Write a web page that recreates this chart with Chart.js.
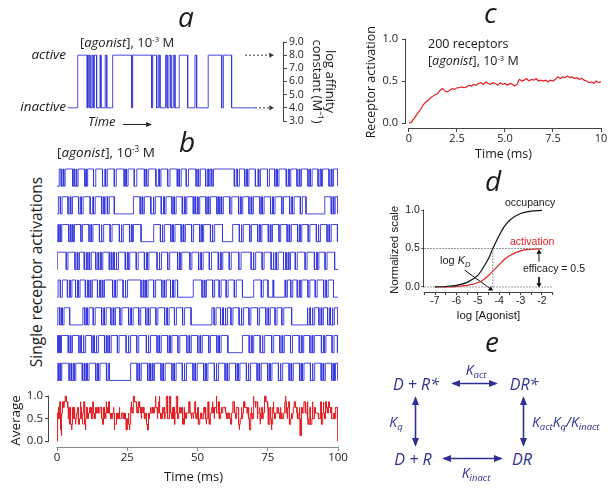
<!DOCTYPE html>
<html>
<head>
<meta charset="utf-8">
<script src="https://cdn.jsdelivr.net/npm/chart.js@4.4.1/dist/chart.umd.min.js"></script>
<style>
  html, body { margin: 0; padding: 0; background: #fff; }
  body { width: 616px; height: 493px; position: relative; overflow: hidden; font-family: 'Open Sans', sans-serif; color: #1a1a1a; }
  canvas, .t, svg { position: absolute; }
  .t { white-space: nowrap; line-height: 1; }
  .panel { font-style: italic; font-size: 28px; }
  .arial { font-family: 'Liberation Sans', Arial, sans-serif; }
  .c { transform: translate(-50%, -50%); }
  sup { font-size: 0.6em; vertical-align: 0.6em; line-height: 0; }
  sub { font-size: 0.68em; vertical-align: -0.35em; line-height: 0; }
  .scheme { color: #2e3192; font-style: italic; }
</style>
</head>
<body>

<!-- panel a -->
<canvas id="chartA" width="290" height="100" style="left:60px;top:30px"></canvas>
<div class="t panel" style="left:178px;top:2px">a</div>
<div class="t" style="left:80px;top:36px;font-size:13px">[<i>agonist</i>], 10<sup>-3</sup> M</div>
<div class="t" style="left:0;width:66px;text-align:right;top:48px;font-size:13.5px;font-style:italic">active</div>
<div class="t" style="left:0;width:66px;text-align:right;top:100px;font-size:13.5px;font-style:italic">inactive</div>
<div class="t" style="left:88px;top:115px;font-size:13px;font-style:italic">Time</div>

<!-- panel b -->
<canvas id="chartTraces" width="285" height="226" style="left:55px;top:162px"></canvas>
<canvas id="chartAvg" width="355" height="108" style="left:0;top:385px"></canvas>
<div class="t panel" style="left:179px;top:127px">b</div>
<div class="t" style="left:57px;top:146px;font-size:13.5px">[<i>agonist</i>], 10<sup>-3</sup> M</div>
<div class="t c" style="left:37px;top:272px;font-size:15.5px;transform:translate(-50%,-50%) rotate(-90deg)">Single receptor activations</div>

<!-- panel c -->
<canvas id="chartC" width="276" height="145" style="left:340px;top:25px"></canvas>
<div class="t panel" style="left:484px;top:-2px">c</div>
<div class="t" style="left:428px;top:38px;font-size:12.5px">200 receptors</div>
<div class="t" style="left:428px;top:55px;font-size:12.5px">[<i>agonist</i>], 10<sup>-3</sup> M</div>

<!-- panel d -->
<canvas id="chartD" width="246" height="130" style="left:370px;top:195px"></canvas>
<div class="t panel" style="left:485px;top:166px">d</div>
<div class="t arial" style="left:505px;top:197px;font-size:10.5px">occupancy</div>
<div class="t arial" style="left:510px;top:236px;font-size:10.5px;color:#e31e24">activation</div>
<div class="t arial" style="left:440px;top:255px;font-size:11px">log <i>K<sub>D</sub></i></div>
<div class="t arial" style="left:523px;top:263px;font-size:10.5px">efficacy = 0.5</div>

<!-- panel e -->
<div class="t panel" style="left:485px;top:327px">e</div>
<div class="t scheme c" style="left:416px;top:384px;font-size:16px">D + R*</div>
<div class="t scheme c" style="left:524px;top:384px;font-size:16px">DR*</div>
<div class="t scheme c" style="left:413px;top:459px;font-size:16px">D + R</div>
<div class="t scheme c" style="left:522px;top:459px;font-size:16px">DR</div>
<div class="t scheme c" style="left:476px;top:370px;font-size:14px">K<sub>act</sub></div>
<div class="t scheme c" style="left:396px;top:422px;font-size:14px">K<sub>q</sub></div>
<div class="t scheme" style="left:532px;top:415px;font-size:14px">K<sub>act</sub>K<sub>q</sub>/K<sub>inact</sub></div>
<div class="t scheme c" style="left:476px;top:473px;font-size:14px">K<sub>inact</sub></div>

<svg width="616" height="493" style="left:0;top:0">
  <defs>
    <marker id="headBlue" viewBox="0 0 10 10" refX="8" refY="5" markerUnits="userSpaceOnUse" markerWidth="9" markerHeight="9" orient="auto-start-reverse">
      <path d="M0,1 L10,5 L0,9 Z" fill="#2e3192"/>
    </marker>
    <marker id="headBlack" viewBox="0 0 10 10" refX="8" refY="5" markerUnits="userSpaceOnUse" markerWidth="6" markerHeight="6" orient="auto">
      <path d="M0,1 L10,5 L0,9 Z" fill="#222"/>
    </marker>
  </defs>
  <line x1="123" y1="124.5" x2="151" y2="124.5" stroke="#222" stroke-width="1" marker-end="url(#headBlack)"/>
  <g stroke="#2e3192" stroke-width="1.6">
    <line x1="453" y1="383.5" x2="496" y2="383.5" marker-start="url(#headBlue)" marker-end="url(#headBlue)"/>
    <line x1="444" y1="458.5" x2="501" y2="458.5" marker-start="url(#headBlue)" marker-end="url(#headBlue)"/>
    <line x1="415.5" y1="398" x2="415.5" y2="445" marker-start="url(#headBlue)" marker-end="url(#headBlue)"/>
    <line x1="523.5" y1="398" x2="523.5" y2="445" marker-start="url(#headBlue)" marker-end="url(#headBlue)"/>
  </g>
</svg>

<script>
// ---- data ----

// panel a: one receptor switching, open (active) intervals in arbitrary time units
const affinityOpenings = [[5.2, 10.3], [10.9, 11.8], [12.8, 13.5], [14.1, 15.3], [17.1, 17.6], [19.9, 20.7],
  [23.9, 34.1], [34.6, 44.8], [45.3, 47.4], [48.3, 49.2], [52.2, 53.0], [54.0, 55.1], [56.3, 57.2],
  [59.5, 64.0], [67.9, 68.8], [75.0, 82.2], [83.1, 87.5]];
const inactiveLevel = 4.0;
const activeLevel = 8.0;
const affinityTicks = [3, 4, 5, 6, 7, 8, 9];

// panel b: active intervals (ms) of 8 single receptors
const receptor1 = [[0.8, 1.5], [2.1, 2.4], [2.9, 5.6], [6.0, 6.3], [6.8, 7.1], [7.5, 9.9], [10.3, 10.5], [10.9, 13.0],
  [13.8, 16.2], [17.0, 17.3], [17.9, 20.4], [21.1, 23.9], [24.4, 24.7], [25.3, 27.5], [28.4, 31.1], [31.6, 31.9],
  [32.5, 35.2], [36.1, 36.5], [37.0, 39.4], [40.2, 42.8], [43.3, 43.6], [44.2, 46.0], [46.8, 49.5], [50.1, 50.4],
  [51.0, 52.9], [53.6, 54.0], [54.5, 55.1], [55.7, 63.1], [63.8, 64.2], [64.9, 66.8], [67.4, 67.7], [68.3, 70.6],
  [71.5, 71.8], [72.4, 74.9], [75.6, 77.5], [78.1, 78.4], [79.0, 81.6], [82.3, 82.6], [83.2, 85.4], [86.1, 86.4],
  [87.0, 89.3], [89.9, 90.2], [90.8, 92.9], [93.6, 94.0], [94.5, 96.8], [97.5, 97.8], [98.4, 100]];
const receptor2 = [[0.5, 1.2], [1.8, 3.9], [4.6, 4.9], [5.5, 7.7], [8.4, 8.7], [9.3, 11.8], [12.7, 13.0], [13.6, 15.9],
  [16.5, 16.8], [17.4, 18.0], [18.6, 20.4], [27.2, 29.6], [30.2, 30.5], [31.1, 33.4], [34.2, 34.5], [35.0, 37.1],
  [37.9, 38.2], [38.8, 40.9], [41.5, 41.8], [42.4, 44.6], [45.3, 45.6], [46.2, 48.5], [49.0, 49.3], [49.9, 50.2],
  [50.8, 53.0], [53.6, 54.0], [54.6, 56.9], [57.4, 57.7], [58.3, 58.6], [59.2, 61.5], [62.2, 64.6], [65.2, 65.5],
  [66.1, 68.3], [69.0, 69.3], [69.9, 72.2], [72.8, 73.1], [73.7, 76.0], [76.7, 77.0], [77.6, 80.0], [80.6, 82.8],
  [83.5, 83.8], [84.4, 86.6], [87.3, 88.6], [95.3, 97.6], [98.2, 98.5], [99.0, 100]];
const receptor3 = [[0.3, 0.6], [1.0, 1.3], [1.7, 4.1], [4.6, 4.9], [5.4, 5.7], [6.2, 8.5], [9.1, 11.4], [12.0, 12.3],
  [12.8, 15.1], [15.7, 16.0], [16.6, 18.9], [19.6, 22.2], [22.8, 23.1], [23.6, 25.8], [26.4, 26.7], [27.2, 29.9],
  [34.4, 36.8], [37.4, 37.7], [38.3, 40.5], [41.1, 41.4], [42.0, 44.2], [44.8, 45.1], [45.7, 47.9], [48.6, 50.8],
  [51.4, 51.7], [52.2, 54.6], [55.2, 55.5], [56.1, 58.9], [62.5, 64.9], [65.5, 65.8], [66.3, 68.6], [69.2, 71.4],
  [72.0, 72.3], [72.9, 75.2], [75.8, 76.1], [76.7, 79.0], [79.6, 81.9], [82.5, 82.8], [83.4, 85.6], [86.2, 86.5],
  [87.1, 89.4], [90.0, 92.3], [92.9, 93.2], [93.8, 96.1], [96.7, 97.0], [97.6, 99.8]];
const receptor4 = [[0.1, 3.3], [3.9, 6.4], [7.1, 7.4], [8.0, 9.7], [10.4, 10.7], [11.3, 11.6], [12.2, 13.8], [14.5, 14.8],
  [15.4, 15.7], [16.3, 18.6], [19.2, 19.5], [20.1, 20.4], [21.0, 21.3], [21.9, 24.3], [25.0, 25.3], [25.9, 28.2],
  [28.9, 31.1], [31.8, 32.1], [32.7, 35.6], [36.3, 36.6], [37.2, 39.4], [40.1, 42.9], [43.5, 43.8], [44.4, 47.3],
  [48.0, 50.4], [51.1, 51.4], [52.0, 54.2], [55.0, 57.4], [58.1, 58.4], [59.0, 61.3], [62.0, 64.7], [65.5, 69.1],
  [69.8, 70.1], [70.7, 73.0], [73.7, 76.2], [76.9, 77.2], [77.8, 78.1], [78.7, 80.6], [81.3, 81.6], [82.2, 82.5],
  [83.1, 84.8], [85.5, 88.3], [89.0, 91.6], [92.3, 92.6], [93.2, 95.4], [96.1, 98.8]];
const receptor5 = [[0.4, 1.2], [1.9, 3.7], [4.4, 4.7], [5.3, 6.6], [7.3, 7.6], [8.2, 10.1], [10.8, 11.1], [11.7, 12.0],
  [12.6, 14.4], [15.1, 15.4], [16.0, 16.3], [16.9, 19.8], [20.5, 20.8], [21.4, 23.5], [24.2, 24.5], [25.1, 29.9],
  [30.6, 30.9], [31.5, 31.8], [32.4, 34.4], [35.1, 37.3], [38.0, 38.3], [38.9, 40.4], [41.1, 41.4], [42.0, 42.9],
  [48.5, 51.6], [52.3, 52.6], [53.2, 55.4], [56.1, 57.7], [58.4, 60.2], [60.9, 63.1], [63.8, 66.0], [70.0, 72.7],
  [73.4, 75.1], [76.8, 77.1], [81.1, 81.4], [82.0, 83.2], [83.9, 85.5], [86.2, 86.5], [87.1, 89.3], [90.0, 91.9],
  [92.6, 94.9], [95.6, 95.9], [96.5, 98.4]];
const receptor6 = [[0.3, 1.0], [1.6, 1.9], [2.5, 4.5], [9.2, 9.9], [10.5, 10.8], [11.4, 12.9], [13.6, 15.9], [16.6, 16.9],
  [17.5, 19.2], [19.9, 20.2], [20.8, 22.4], [23.1, 25.5], [26.2, 26.5], [27.1, 29.1], [29.8, 31.6], [32.3, 32.6],
  [33.2, 35.2], [35.9, 38.3], [39.0, 39.3], [39.9, 41.8], [42.5, 44.7], [45.4, 47.7], [55.1, 55.9], [56.6, 58.2],
  [58.9, 59.2], [59.8, 60.1], [60.7, 61.9], [62.6, 64.8], [65.5, 65.8], [66.4, 68.3], [69.0, 71.4], [72.1, 74.3],
  [75.0, 75.3], [75.9, 77.6], [78.3, 80.0], [80.7, 83.5], [89.0, 89.3], [89.9, 90.2], [90.8, 91.1], [91.7, 93.2],
  [93.9, 94.2], [94.8, 96.3], [97.0, 97.3], [97.9, 98.2], [98.7, 100]];
const receptor7 = [[0.2, 0.5], [0.9, 1.2], [1.6, 4.0], [4.6, 4.9], [5.5, 7.8], [8.4, 8.7], [9.3, 9.6], [10.2, 12.4],
  [13.0, 13.3], [13.9, 14.2], [14.8, 16.9], [17.5, 17.8], [18.4, 18.7], [19.3, 21.5], [22.1, 24.6], [25.3, 25.6],
  [26.2, 28.4], [29.1, 31.8], [32.4, 32.7], [33.3, 35.6], [36.2, 36.5], [37.1, 39.4], [40.0, 40.3], [40.9, 43.0],
  [43.7, 46.2], [46.9, 47.2], [47.8, 50.1], [50.8, 51.1], [51.7, 54.0], [54.6, 56.9], [57.5, 57.8], [58.4, 60.8],
  [66.0, 68.4], [69.1, 69.4], [70.0, 72.3], [73.0, 73.3], [73.9, 76.4], [77.1, 79.3], [80.0, 80.3], [80.9, 83.1],
  [83.8, 86.2], [86.9, 87.2], [87.8, 90.0], [90.7, 91.0], [91.6, 94.1], [94.8, 95.1], [95.7, 97.9], [98.6, 99.8]];
const receptor8 = [[0.3, 0.6], [1.0, 1.3], [1.7, 4.3], [4.9, 5.2], [5.8, 6.1], [6.7, 9.0], [9.6, 9.9], [10.5, 10.8],
  [11.4, 13.8], [14.4, 14.7], [15.3, 17.6], [18.2, 18.6], [26.2, 28.5], [29.1, 29.4], [30.0, 32.3], [32.9, 33.2],
  [33.8, 34.1], [34.7, 37.0], [37.6, 37.9], [38.5, 40.9], [41.5, 41.8], [42.4, 44.6], [45.2, 45.5], [46.1, 48.4],
  [49.0, 49.3], [49.9, 52.2], [52.8, 53.1], [53.7, 56.0], [56.6, 56.9], [57.5, 59.8], [60.4, 60.7], [61.3, 63.6],
  [64.2, 64.5], [65.1, 67.4], [68.0, 68.3], [68.9, 71.2], [71.8, 72.1], [72.7, 75.0], [75.6, 75.9], [76.5, 78.8],
  [79.4, 79.7], [80.3, 82.6], [83.2, 83.5], [84.1, 86.4], [87.0, 87.3], [87.9, 90.2], [90.8, 91.1], [91.7, 94.0],
  [94.6, 94.9], [95.5, 97.8], [98.4, 98.7], [99.1, 100]];
const singleTraces = [receptor1, receptor2, receptor3, receptor4, receptor5, receptor6, receptor7, receptor8];
const traceTicks = [0, 25, 50, 75, 100];
const fractionTicks = [0, 0.5, 1];

// panel c: 200 receptors, fraction active, sampled every 0.125 ms
const cTimeStep = 0.125;
const cActivation = [
  0.00, 0.01, 0.05, 0.09, 0.13, 0.17, 0.22, 0.25, 0.27, 0.30, 0.32, 0.34, 0.35, 0.39, 0.41, 0.38, 0.37,
  0.39, 0.41, 0.40, 0.42, 0.42, 0.43, 0.42, 0.43,
  0.45, 0.44, 0.46, 0.45, 0.47, 0.48, 0.46, 0.49,
  0.47, 0.46, 0.48, 0.47, 0.45, 0.48, 0.46, 0.47,
  0.45, 0.47, 0.46, 0.44, 0.46, 0.52, 0.50, 0.51,
  0.53, 0.50, 0.52, 0.51, 0.53, 0.50, 0.51, 0.50,
  0.51, 0.49, 0.51, 0.50, 0.52, 0.55, 0.53, 0.55,
  0.54, 0.56, 0.54, 0.55, 0.53, 0.54, 0.52, 0.53,
  0.51, 0.50, 0.48, 0.49, 0.47, 0.50, 0.48, 0.49];
const cTicksX = [0, 2.5, 5, 7.5, 10];

// panel d: concentration-response
const logAgonist = [-7, -6.5, -6, -5.5, -5, -4.75, -4.5, -4.25, -4, -3.75, -3.5, -3, -2.5, -2];
const occupancy = [0.002, 0.006, 0.02, 0.06, 0.15, 0.25, 0.37, 0.53, 0.67, 0.79, 0.87, 0.955, 0.985, 0.995];
const activation = [0.001, 0.002, 0.006, 0.02, 0.055, 0.09, 0.15, 0.22, 0.29, 0.36, 0.41, 0.47, 0.49, 0.497];
const logKD = -4.3;
const efficacy = 0.5;
const doseTicks = [-7.5, -7, -6.5, -6, -5.5, -5, -4.5, -4, -3.5, -3, -2.5, -2, -1.5];

// ---- helpers ----
const blue = 'rgba(52, 52, 222, 0.9)';
const red = '#e31e24';
const axisGrey = '#444';

function stepPoints(openings, low, high, tEnd) {
  const pts = [{ x: 0, y: low }];
  openings.forEach(([on, off]) => {
    pts.push({ x: on, y: low }, { x: on, y: high }, { x: off, y: high }, { x: off, y: low });
  });
  pts.push({ x: tEnd, y: low });
  return pts;
}

// fraction of the single receptors active at time t
function fractionActive(t) {
  return singleTraces.filter(tr => tr.some(([on, off]) => t >= on && t < off)).length / singleTraces.length;
}

const switchTimes = [...new Set(singleTraces.flat(2))].sort((a, b) => a - b);
const averagePoints = [{ x: 0, y: fractionActive(0) }];
switchTimes.forEach(t => {
  averagePoints.push({ x: t, y: averagePoints[averagePoints.length - 1].y }, { x: t, y: fractionActive(t) });
});

// Prism style axis line: only from first to last tick
const axisLines = {
  id: 'axisLines',
  afterDraw(chart) {
    const ctx = chart.ctx;
    Object.values(chart.scales).forEach(s => {
      if (!s.options.display || s.ticks.length < 2) return;
      const a = s.getPixelForValue(s.ticks[0].value);
      const b = s.getPixelForValue(s.ticks[s.ticks.length - 1].value);
      ctx.save();
      ctx.strokeStyle = s.options.grid.color;
      ctx.lineWidth = 1;
      ctx.beginPath();
      if (s.isHorizontal()) {
        const y = Math.round(s.top) + 0.5;
        ctx.moveTo(a - 0.5, y);
        ctx.lineTo(b + 0.5, y);
      } else {
        const x = s.position === 'right' ? Math.round(s.left) + 0.5 : Math.round(s.right) - 0.5;
        ctx.moveTo(x, a + 0.5);
        ctx.lineTo(x, b - 0.5);
      }
      ctx.stroke();
      ctx.restore();
    });
  }
};

const setTicks = list => scale => { scale.ticks = list.map(v => ({ value: v })); };

Chart.defaults.font.family = "'Open Sans', sans-serif";
Chart.defaults.color = '#222';
Chart.defaults.plugins.legend.display = false;
Chart.defaults.plugins.tooltip.enabled = false;

const base = { responsive: false, animation: false, events: [] };

// ---- panel a ----
new Chart(document.getElementById('chartA'), {
  type: 'scatter',
  data: {
    datasets: [
      { data: stepPoints(affinityOpenings, inactiveLevel, activeLevel, 100), showLine: true, borderColor: blue, borderWidth: 1, pointRadius: 0 },
      { data: [{ x: 94.7, y: activeLevel }, { x: 108.5, y: activeLevel }], showLine: true, borderColor: '#333', borderWidth: 1,
        borderDash: [2, 2], pointStyle: 'triangle', pointRadius: [0, 3], pointRotation: 90, pointBackgroundColor: '#333', pointBorderWidth: 0 },
      { data: [{ x: 100, y: inactiveLevel }, { x: 108.5, y: inactiveLevel }], showLine: true, borderColor: '#333', borderWidth: 1,
        borderDash: [2, 2], pointStyle: 'triangle', pointRadius: [0, 3], pointRotation: 90, pointBackgroundColor: '#333', pointBorderWidth: 0 }
    ]
  },
  options: {
    ...base,
    layout: { autoPadding: false, padding: { left: 8, right: 0, top: 12, bottom: 9 } },
    scales: {
      x: { type: 'linear', display: false, min: 0, max: 115 },
      y: {
        position: 'right', min: 3, max: 9,
        afterFit: s => { s.width = 67; },
        afterBuildTicks: setTicks(affinityTicks),
        ticks: { callback: v => v.toFixed(1), font: { size: 10.5 }, padding: 2, autoSkip: false },
        grid: { drawOnChartArea: false, tickLength: 4, color: axisGrey },
        border: { display: false },
        title: { display: true, text: ['log affinity', 'constant (M\u207B\u00B9)'], color: '#1a1a1a',
          font: { size: 13, lineHeight: 1 }, padding: { top: 13.5, bottom: 0 } }
      }
    }
  },
  plugins: [axisLines]
});

// ---- panel b: single receptor traces ----
new Chart(document.getElementById('chartTraces'), {
  type: 'scatter',
  data: {
    datasets: singleTraces.map((tr, k) => ({
      data: stepPoints(tr, singleTraces.length - 1 - k, singleTraces.length - 1 - k + 0.62, 100),
      showLine: true, borderColor: blue, borderWidth: 1, pointRadius: 0
    }))
  },
  options: {
    ...base,
    layout: { autoPadding: false, padding: 2 },
    scales: {
      x: { type: 'linear', display: false, min: 0, max: 100 },
      y: { display: false, min: -0.2, max: 7.8 }
    }
  }
});

// ---- panel b: average ----
new Chart(document.getElementById('chartAvg'), {
  type: 'scatter',
  data: {
    datasets: [{ data: averagePoints, showLine: true, borderColor: red, borderWidth: 1, pointRadius: 0 }]
  },
  options: {
    ...base,
    layout: { autoPadding: false, padding: { left: 0, right: 17, top: 7.7, bottom: 0 } },
    scales: {
      x: {
        type: 'linear', min: -2.847, max: 100,
        afterFit: s => { s.height = 46; },
        afterBuildTicks: setTicks(traceTicks),
        ticks: { callback: v => String(v), font: { size: 11.5 }, padding: 0, maxRotation: 0, autoSkip: false },
        grid: { drawOnChartArea: false, tickLength: 4, color: '#8a8a8a' },
        border: { display: false },
        title: { display: true, text: 'Time (ms)', color: '#1a1a1a', font: { size: 13 }, padding: { top: 0, bottom: 8.2 } }
      },
      y: {
        min: -0.13, max: 1.05,
        afterFit: s => { s.width = 49; },
        afterBuildTicks: setTicks(fractionTicks),
        ticks: { callback: v => v.toFixed(1), font: { size: 11.5 }, padding: 2, autoSkip: false },
        grid: { drawOnChartArea: false, tickLength: 4, color: axisGrey },
        border: { display: false },
        title: { display: true, text: 'Average', color: '#1a1a1a', font: { size: 13.5 }, padding: { top: 8, bottom: 0 } }
      }
    }
  },
  plugins: [axisLines]
});

// ---- panel c ----
new Chart(document.getElementById('chartC'), {
  type: 'scatter',
  data: {
    datasets: [{
      data: cActivation.map((v, i) => ({ x: i * cTimeStep, y: v })),
      showLine: true, borderColor: red, borderWidth: 1.2, pointRadius: 0
    }]
  },
  options: {
    ...base,
    layout: { autoPadding: false, padding: { left: 0, right: 15, top: 11.5, bottom: 0 } },
    scales: {
      x: {
        type: 'linear', min: -0.156, max: 10,
        afterFit: s => { s.height = 42; },
        afterBuildTicks: setTicks(cTicksX),
        ticks: { callback: v => (Number.isInteger(v) && v !== 5 ? String(v) : v.toFixed(1)), font: { size: 11 }, padding: 0, maxRotation: 0, autoSkip: false },
        grid: { drawOnChartArea: false, tickLength: 4, color: axisGrey },
        border: { display: false },
        title: { display: true, text: 'Time (ms)', color: '#1a1a1a', font: { size: 12.5 }, padding: { top: 0, bottom: 8.5 } }
      },
      y: {
        min: -0.0595, max: 1.03,
        afterFit: s => { s.width = 66; },
        afterBuildTicks: setTicks(fractionTicks),
        ticks: { callback: v => v.toFixed(1), font: { size: 11 }, padding: 4, autoSkip: false },
        grid: { drawOnChartArea: false, tickLength: 4, color: axisGrey },
        border: { display: false },
        title: { display: true, text: 'Receptor activation', color: '#1a1a1a', font: { size: 12.5 }, padding: { top: 23.5, bottom: 0 } }
      }
    }
  },
  plugins: [axisLines]
});

// ---- panel d ----
const guide = { showLine: true, borderColor: '#777', borderWidth: 1, borderDash: [1.5, 1.5], pointRadius: 0 };
const arrow = { showLine: true, borderColor: '#111', borderWidth: 1, pointStyle: 'triangle', pointBackgroundColor: '#111', pointBorderWidth: 0 };
const arial = "'Liberation Sans', Arial, sans-serif";

new Chart(document.getElementById('chartD'), {
  type: 'scatter',
  data: {
    datasets: [
      { ...guide, data: [{ x: doseTicks[0], y: 0 }, { x: doseTicks[doseTicks.length - 1], y: 0 }] },
      { ...guide, data: [{ x: doseTicks[0], y: efficacy }, { x: logAgonist[logAgonist.length - 1], y: efficacy }] },
      { ...guide, data: [{ x: logKD, y: 0 }, { x: logKD, y: efficacy }] },
      { data: logAgonist.map((x, i) => ({ x, y: occupancy[i] })), showLine: true, borderColor: '#111', borderWidth: 1.2,
        pointRadius: 0, cubicInterpolationMode: 'monotone' },
      { data: logAgonist.map((x, i) => ({ x, y: activation[i] })), showLine: true, borderColor: red, borderWidth: 1.2,
        pointRadius: 0, cubicInterpolationMode: 'monotone' },
      { ...arrow, data: [{ x: -5.62, y: 0.22 }, { x: logKD - 0.1, y: -0.025 }], pointRadius: [0, 3], pointRotation: 126 },
      { ...arrow, data: [{ x: -2.14, y: 0.33 }, { x: -2.14, y: 0.45 }], pointRadius: [0, 3], pointRotation: 0 },
      { ...arrow, data: [{ x: -2.14, y: 0.13 }, { x: -2.14, y: 0.03 }], pointRadius: [0, 3], pointRotation: 180 }
    ]
  },
  options: {
    ...base,
    clip: false,
    layout: { autoPadding: false, padding: { left: 0, right: 63.3, top: 12.7, bottom: 0 } },
    scales: {
      x: {
        type: 'linear', min: -7.5, max: -1.5,
        afterFit: s => { s.height = 33; },
        afterBuildTicks: setTicks(doseTicks),
        ticks: { callback: v => (Number.isInteger(v) ? String(v) : ''), font: { family: arial, size: 10.5 }, padding: 0, maxRotation: 0, autoSkip: false },
        grid: { drawOnChartArea: false, tickLength: 3, color: axisGrey },
        border: { display: false },
        title: { display: true, text: 'log [Agonist]', color: '#1a1a1a', font: { family: arial, size: 11.5 }, padding: { top: 0, bottom: 2 } }
      },
      y: {
        min: -0.065, max: 1.03,
        afterFit: s => { s.width = 54.3; },
        afterBuildTicks: setTicks(fractionTicks),
        ticks: { callback: v => v.toFixed(1), font: { family: arial, size: 10.5 }, padding: 1.5, autoSkip: false },
        grid: { drawOnChartArea: false, tickLength: 3, color: axisGrey },
        border: { display: false },
        title: { display: true, text: 'Normalized scale', color: '#1a1a1a', font: { family: arial, size: 11.5 }, padding: { top: 18, bottom: 0 } }
      }
    }
  },
  plugins: [axisLines]
});
</script>
</body>
</html>
